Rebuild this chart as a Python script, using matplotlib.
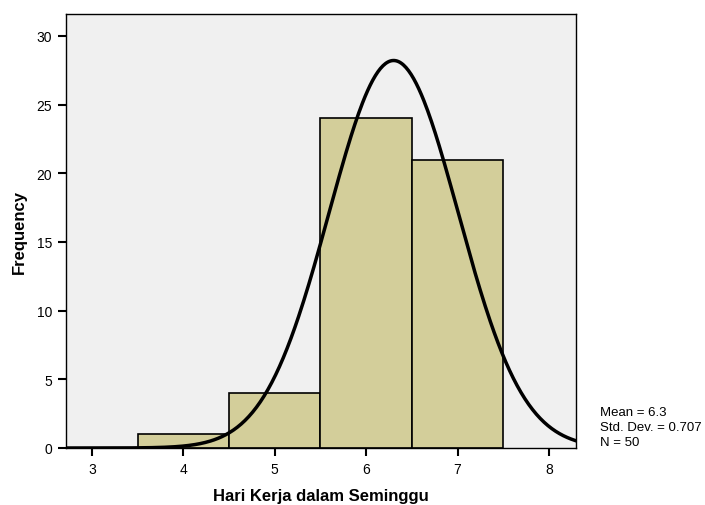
import matplotlib
matplotlib.use("Agg")
import matplotlib.pyplot as plt
import numpy as np

plt.rcParams['font.family'] = ['Liberation Sans', 'DejaVu Sans']

# histogram data (bin centres and counts)
days = [4, 5, 6, 7]
counts = [1, 4, 24, 21]
mean = 6.3
sd = 0.707
n = 50

fig = plt.figure(figsize=(7.05, 5.06), dpi=100)
ax = fig.add_axes([66/705, 57/506, 510/705, 434/506])
ax.set_facecolor("#F0F0F0")

ax.bar(days, counts, width=1.0, color="#D3CE9A", edgecolor="black", linewidth=1.2, zorder=2)

xs = np.linspace(2.716, 8.295, 400)
ys = n * 1.0 / (sd * np.sqrt(2*np.pi)) * np.exp(-0.5*((xs-mean)/sd)**2)
ax.plot(xs, ys, color="black", linewidth=2.5, zorder=3)

ax.set_xlim(2.716, 8.295)
ax.set_ylim(0, 31.6)
ax.set_xticks([3, 4, 5, 6, 7, 8])
ax.set_yticks([0, 5, 10, 15, 20, 25, 30])
ax.tick_params(direction="out", length=6, width=1.5, labelsize=10, color="black", pad=4)
for s in ax.spines.values():
    s.set_linewidth(1.0)

ax.set_xlabel("Hari Kerja dalam Seminggu", fontsize=12, fontweight="bold", labelpad=9)
ax.set_ylabel("Frequency", fontsize=12, fontweight="bold", labelpad=7)

fig.text(600/705, 1 - 428/506, "Mean = 6.3\nStd. Dev. = 0.707\nN = 50",
         fontsize=9.5, va="center", ha="left", linespacing=1.35)

fig.savefig("out.png", dpi=100)
